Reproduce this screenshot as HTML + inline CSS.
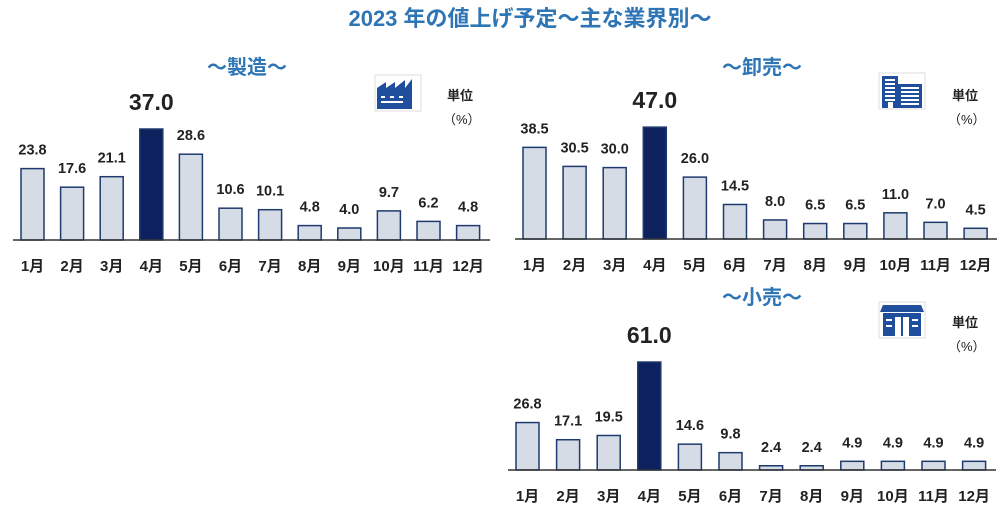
<!DOCTYPE html>
<html><head><meta charset="utf-8">
<style>
body{margin:0;width:1006px;height:525px;background:#fff;overflow:hidden;font-family:"Liberation Sans","Noto Sans CJK JP",sans-serif;}
svg text{font-family:"Liberation Sans","Noto Sans CJK JP",sans-serif;}
</style></head>
<body>
<svg id="c" width="1006" height="525">
<text x="530" y="26" text-anchor="middle" font-size="22" font-weight="bold" fill="#2e75b6">2023 年の値上げ予定〜主な業界別〜</text>
</svg>
<script>
const months=["1月","2月","3月","4月","5月","6月","7月","8月","9月","10月","11月","12月"];
const mfgValues=[23.8,17.6,21.1,37.0,28.6,10.6,10.1,4.8,4.0,9.7,6.2,4.8];
const wholesaleValues=[38.5,30.5,30.0,47.0,26.0,14.5,8.0,6.5,6.5,11.0,7.0,4.5];
const retailValues=[26.8,17.1,19.5,61.0,14.6,9.8,2.4,2.4,4.9,4.9,4.9,4.9];
const highlightIndex=3;
const NS="http://www.w3.org/2000/svg";
const svg=document.getElementById('c');
function mk(tag,attrs,parent){const e=document.createElementNS(NS,tag);for(const k in attrs)e.setAttribute(k,attrs[k]);(parent||svg).appendChild(e);return e;}
function chart(cfg,values){
  const g=mk('g',{});
  
  
  const xs=i=>cfg.x0+i*cfg.pitch;
  const ys=v=>cfg.base-v*cfg.scale;
  const t=mk('text',{x:cfg.titleX,y:cfg.titleY,'text-anchor':'middle','font-size':20,'font-weight':'bold',fill:'#2e75b6'},g);
  t.textContent=cfg.title;
  
  
  values.forEach((v,i)=>{
    const hi=i===highlightIndex;
    const r=mk('rect',{x:xs(i),y:ys(v),width:23,height:cfg.base-ys(v),fill:hi?'#0c215e':'#d6dce5',stroke:'#1f3a6e','stroke-width':1.5},g);
    
    
    const l=mk('text',{x:xs(i)+11.5,y:ys(v)-(hi?19:14),'text-anchor':'middle','font-size':hi?23:14.5,'font-weight':'bold',fill:'#222'},g);
    l.textContent=v.toFixed(1);
    
    
    const m=mk('text',{x:xs(i)+11.5,y:cfg.base+31,'text-anchor':'middle','font-size':15,'font-weight':'bold',fill:'#222'},g);
    m.textContent=months[i];
    
    
  });
  const ax=mk('line',{x1:cfg.ax1,x2:cfg.ax2,y1:cfg.base,y2:cfg.base,stroke:'#333','stroke-width':1.5},g);
  
  
  const u1=mk('text',{x:cfg.unitX,y:cfg.unitY,'font-size':13,'font-weight':'bold',fill:'#222'},g);
  u1.textContent='単位';
  
  
  const u2=mk('text',{x:cfg.unitX-4,y:cfg.unitY+24,'font-size':13,fill:'#222'},g);
  u2.textContent='（%）';
  
  
  const ic=mk('g',{transform:'translate('+cfg.iconX+','+cfg.iconY+')'},g);
  
  
  mk('rect',{x:-1,y:-1,width:46,height:36,fill:'#fff',stroke:'#ddd','stroke-width':1},ic);
  if(cfg.iconType==='factory'){
    mk('path',{d:'M1 33 V12 L10 6 V12 L19 6 V12 L29 4 V12 L36 3 V33 Z',fill:'#1f4e9c'},ic);
    mk('rect',{x:5,y:20,width:4,height:2,fill:'#fff'},ic);mk('rect',{x:14,y:20,width:4,height:2,fill:'#fff'},ic);mk('rect',{x:23,y:20,width:4,height:2,fill:'#fff'},ic);
    mk('rect',{x:5,y:25,width:22,height:2,fill:'#fff'},ic);
  }else if(cfg.iconType==='office'){
    mk('rect',{x:2,y:2,width:16,height:32,fill:'#1f4e9c'},ic);
    mk('rect',{x:18,y:10,width:24,height:24,fill:'#1f4e9c'},ic);
    for(let k=0;k<6;k++){mk('rect',{x:5,y:5+k*4,width:10,height:2,fill:'#fff'},ic);}
    for(let k=0;k<5;k++){mk('rect',{x:21,y:13+k*4,width:18,height:2,fill:'#fff'},ic);}
    mk('rect',{x:8,y:28,width:5,height:6,fill:'#fff'},ic);
  }else{
    mk('path',{d:'M3 2 H41 L44 9 H0 Z',fill:'#1f4e9c'},ic);
    mk('rect',{x:3,y:10,width:38,height:23,fill:'#1f4e9c'},ic);
    mk('rect',{x:15,y:14,width:14,height:19,fill:'#fff'},ic);
    mk('rect',{x:21,y:14,width:2,height:19,fill:'#1f4e9c'},ic);
    mk('rect',{x:6,y:16,width:6,height:2,fill:'#fff'},ic);mk('rect',{x:32,y:16,width:6,height:2,fill:'#fff'},ic);
    mk('rect',{x:6,y:22,width:6,height:2,fill:'#fff'},ic);mk('rect',{x:32,y:22,width:6,height:2,fill:'#fff'},ic);
  }
}
chart({name:'manufacturing-chart',title:'〜製造〜',titleX:247,titleY:74,x0:21,pitch:39.6,base:240,scale:3.0,ax1:13,ax2:490,unitX:447,unitY:100,iconX:376,iconY:76,iconType:'factory',iconName:'factory-icon'},mfgValues);
chart({name:'wholesale-chart',title:'〜卸売〜',titleX:762,titleY:74,x0:523,pitch:40.1,base:239,scale:2.38,ax1:515,ax2:997,unitX:952,unitY:100,iconX:880,iconY:74,iconType:'office',iconName:'office-icon'},wholesaleValues);
chart({name:'retail-chart',title:'〜小売〜',titleX:762,titleY:304,x0:516,pitch:40.6,base:470,scale:1.77,ax1:508,ax2:996,unitX:952,unitY:327,iconX:880,iconY:303,iconType:'store',iconName:'store-icon'},retailValues);
</script>
</body></html>
